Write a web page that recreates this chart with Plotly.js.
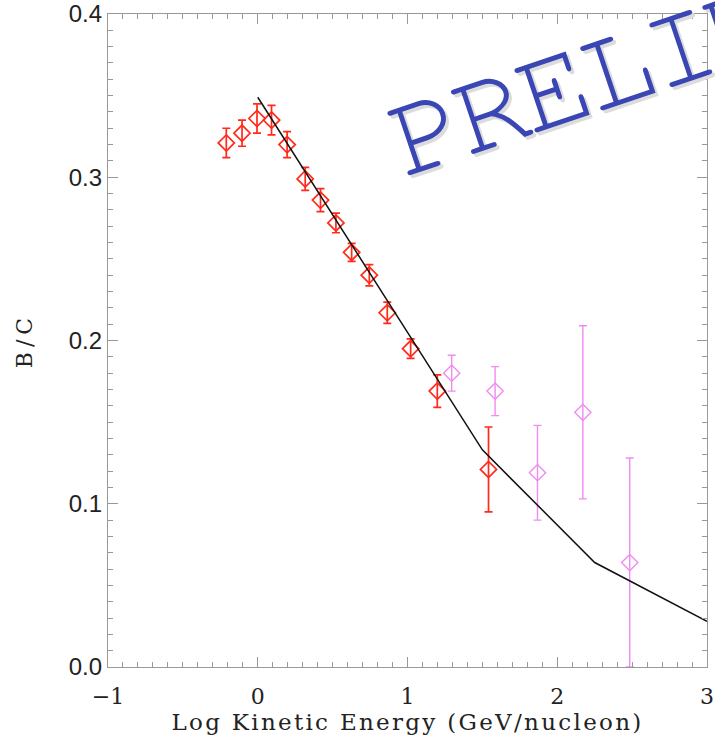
<!DOCTYPE html>
<html>
<head>
<meta charset="utf-8">
<script src="https://cdn.plot.ly/plotly-3.0.1.min.js"></script>
<style>
html,body{margin:0;padding:0;background:#fff;}
#chart{width:715px;height:745px;}
.xtitle{letter-spacing:2.3px;}
.ytitle{letter-spacing:5px;}
.annotation-text{letter-spacing:-5px;}
</style>
</head>
<body>
<div id="chart"></div>
<script>
// Red data points (Log kinetic energy, B/C, error)
const redX = [-0.21, -0.105, -0.005, 0.092, 0.196, 0.317, 0.419, 0.522, 0.627, 0.745, 0.865, 1.021, 1.199, 1.541];
const redY = [0.321, 0.327, 0.336, 0.335, 0.320, 0.299, 0.286, 0.272, 0.254, 0.240, 0.217, 0.195, 0.169, 0.121];
const redErr = [0.009, 0.008, 0.009, 0.009, 0.008, 0.007, 0.007, 0.006, 0.0055, 0.0065, 0.0065, 0.006, 0.010, 0.026];

// Magenta data points
const magX = [1.295, 1.585, 1.868, 2.171, 2.484];
const magY = [0.180, 0.169, 0.119, 0.156, 0.064];
const magErr = [0.011, 0.015, 0.029, 0.053, 0.064];

// Model curve
const modelX = [0, 1.5, 2.25, 3];
const modelY = [0.349, 0.133, 0.064, 0.028];

const xTickVals = [-1, 0, 1, 2, 3];
const xTickText = ['\u22121', '0', '1', '2', '3'];
const yTickVals = [0, 0.1, 0.2, 0.3, 0.4];
const yTickText = ['0.0', '0.1', '0.2', '0.3', '0.4'];

const red = '#ff2a1a';
const mag = '#f08cf0';

const traces = [
  {
    x: redX, y: redY, type: 'scatter', mode: 'markers',
    marker: {symbol: 'diamond-open', size: 12.5, color: red, line: {width: 1.7, color: red}},
    error_y: {type: 'data', array: redErr, visible: true, color: red, thickness: 1.7, width: 4},
    cliponaxis: false
  },
  {
    x: magX, y: magY, type: 'scatter', mode: 'markers',
    marker: {symbol: 'diamond-open', size: 12.5, color: mag, line: {width: 1.4, color: mag}},
    error_y: {type: 'data', array: magErr, visible: true, color: mag, thickness: 1.4, width: 4},
    cliponaxis: true
  },
  {
    x: modelX, y: modelY, type: 'scatter', mode: 'lines',
    line: {color: '#111', width: 1.5}
  }
];

const axisCol = '#999';
const wmFont = 'FreeMono';
const layout = {
  width: 715, height: 745,
  margin: {l: 108, r: 8, t: 14, b: 78},
  paper_bgcolor: '#fff', plot_bgcolor: '#fff',
  showlegend: false,
  xaxis: {
    range: [-1, 3], tickvals: xTickVals, ticktext: xTickText,
    ticks: 'inside', ticklen: 10, tickwidth: 1, tickcolor: axisCol,
    minor: {dtick: 0.1, tick0: 0, ticks: 'inside', ticklen: 5, tickcolor: axisCol, tickwidth: 1, showgrid: false},
    showline: true, linecolor: axisCol, linewidth: 1.2, mirror: 'allticks',
    showgrid: false, zeroline: false, ticklabelstandoff: 9,
    tickfont: {family: 'DejaVu Serif', size: 22, color: '#222'},
    title: {text: 'Log Kinetic Energy (GeV/nucleon)', font: {family: 'DejaVu Serif', size: 23, color: '#222'}, standoff: 6}
  },
  yaxis: {
    range: [0, 0.4], tickvals: yTickVals, ticktext: yTickText,
    ticks: 'inside', ticklen: 10, tickwidth: 1, tickcolor: axisCol,
    minor: {dtick: 0.01, tick0: 0, ticks: 'inside', ticklen: 5, tickcolor: axisCol, tickwidth: 1, showgrid: false},
    showline: true, linecolor: axisCol, linewidth: 1.2, mirror: 'allticks',
    showgrid: false, zeroline: false,
    tickfont: {family: 'Liberation Sans', size: 24, color: '#222'},
    title: {text: 'B/C', font: {family: 'DejaVu Serif', size: 22, color: '#222'}, standoff: 30}
  },
  annotations: [
    {
      text: 'PRELIMINARY', xref: 'paper', yref: 'paper', x: 1.057, y: 0.981,
      xanchor: 'center', yanchor: 'middle', showarrow: false, textangle: -18.6,
      xshift: 3, yshift: -3,
      font: {family: wmFont, size: 120, color: '#dcdcdc'}
    },
    {
      text: 'PRELIMINARY', xref: 'paper', yref: 'paper', x: 1.057, y: 0.981,
      xanchor: 'center', yanchor: 'middle', showarrow: false, textangle: -18.6,
      font: {family: wmFont, size: 120, color: '#3a46b4'}
    }
  ]
};

Plotly.newPlot('chart', traces, layout, {staticPlot: true, displayModeBar: false});
</script>
</body>
</html>
